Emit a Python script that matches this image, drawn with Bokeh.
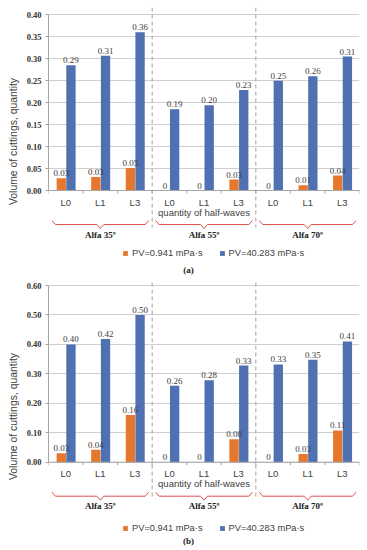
import math
import numpy as np
from bokeh.plotting import figure
from bokeh.layouts import column
from bokeh.models import (ColumnDataSource, FixedTicker, PrintfTickFormatter, Span,
                          Title, Legend, LegendItem, Range1d)
from bokeh.transform import dodge
from bokeh.core.properties import value
from bokeh.embed import file_html
from bokeh.resources import INLINE

# ---------------- data ----------------
cats = ["L0", "L1", "L3", "L0", "L1", "L3", "L0", "L1", "L3"]
groups = ["Alfa 35º", "Alfa 55º", "Alfa 70º"]
series_names = ["PV=0.941 mPa·s", "PV=40.283 mPa·s"]
x_title = "quantity of half-waves"
y_title = "Volume of cuttings, quantity"

# panel (a)
a_orange = [0.028, 0.031, 0.051, 0.0, 0.0, 0.025, 0.0, 0.012, 0.034]
a_blue = [0.285, 0.307, 0.360, 0.185, 0.194, 0.229, 0.250, 0.260, 0.305]
a_orange_lbl = ["0.03", "0.03", "0.05", "0", "0", "0.03", "0", "0.01", "0.04"]
a_blue_lbl = ["0.29", "0.31", "0.36", "0.19", "0.20", "0.23", "0.25", "0.26", "0.31"]
a_ticks = [0.00, 0.05, 0.10, 0.15, 0.20, 0.25, 0.30, 0.35, 0.40]

# panel (b)
b_orange = [0.030, 0.042, 0.160, 0.0, 0.0, 0.078, 0.0, 0.028, 0.108]
b_blue = [0.400, 0.418, 0.500, 0.260, 0.278, 0.328, 0.332, 0.348, 0.410]
b_orange_lbl = ["0.03", "0.04", "0.16", "0", "0", "0.08", "0", "0.03", "0.11"]
b_blue_lbl = ["0.40", "0.42", "0.50", "0.26", "0.28", "0.33", "0.33", "0.35", "0.41"]
b_ticks = [0.00, 0.10, 0.20, 0.30, 0.40, 0.50, 0.60]

ORANGE = "#E8772E"
BLUE = "#4F70B1"
RED = "#D9534F"
GRID = "#CFCFCF"
AXIS = "#A6A6A6"
SANS = "Liberation Sans"
SERIF = "Liberation Serif"

W = 367
H = 275
FRAME_TOP = 7
LEFT = 40
RIGHT = 8


def make_panel(orange, blue, orange_lbl, blue_lbl, ticks, top_px, zero_px, caption):
    y_max = ticks[-1]
    scale = (zero_px - top_px) / y_max
    y_end = y_max + (top_px - FRAME_TOP) / scale
    y_start = -(H - zero_px) / scale

    def below(px):
        return -px / scale

    n = len(cats)
    xs = [i + 0.5 for i in range(n)]
    src = ColumnDataSource(dict(x=xs, cat=cats, o=orange, b=blue,
                                ol=orange_lbl, bl=blue_lbl))

    p = figure(width=W, height=H, output_backend="svg", toolbar_location=None,
               x_range=Range1d(0, n), y_range=Range1d(y_start, y_end),
               x_axis_location=None, min_border_left=LEFT, min_border_right=RIGHT,
               min_border_top=FRAME_TOP, min_border_bottom=0)
    p.outline_line_color = None
    p.background_fill_color = "white"
    p.border_fill_color = "white"
    p.xgrid.visible = False
    p.ygrid.grid_line_color = GRID
    p.ygrid.bounds = (0, y_max)
    p.ygrid.ticker = FixedTicker(ticks=ticks)

    ax = p.yaxis[0]
    ax.ticker = FixedTicker(ticks=ticks)
    ax.bounds = (0, y_max)
    ax.formatter = PrintfTickFormatter(format="%.2f")
    ax.axis_line_color = AXIS
    ax.major_tick_line_color = AXIS
    ax.major_tick_out = 3
    ax.major_tick_in = 0
    ax.minor_tick_line_color = None
    ax.major_label_text_font = SERIF
    ax.major_label_text_font_style = "bold"
    ax.major_label_text_font_size = "8.5px"
    ax.major_label_text_color = "#333333"
    ax.major_label_standoff = 4

    # y title (shifted up so it is centred on the value area)
    frame_h = H - FRAME_TOP
    shift = (FRAME_TOP + frame_h / 2) - (top_px + zero_px) / 2
    p.add_layout(Title(text=y_title, align="center", offset=shift,
                       text_font=SANS, text_font_size="10.4px",
                       text_font_style="normal", text_color="#404040"), "left")

    # bars
    r_o = p.vbar(x=dodge("x", -0.13, range=p.x_range), top="o", width=0.27,
                 source=src, fill_color=ORANGE, line_color=None)
    r_b = p.vbar(x=dodge("x", 0.15, range=p.x_range), top="b", width=0.27,
                 source=src, fill_color=BLUE, line_color=None)

    # x axis line at zero and category boundary ticks
    p.add_layout(Span(location=0, dimension="width", line_color=AXIS, line_width=1))
    bounds_x = list(range(n + 1))
    p.segment(x0=bounds_x, x1=bounds_x, y0=[0] * (n + 1), y1=[below(3)] * (n + 1),
              line_color=AXIS, line_width=1)

    # value labels
    p.text(x=dodge("x", -0.13, range=p.x_range), y="o", text="ol", source=src,
           text_align="center", text_baseline="bottom", y_offset=-2,
           text_font=value(SERIF), text_font_size="9px", text_color="#404040")
    p.text(x=dodge("x", 0.15, range=p.x_range), y="b", text="bl", source=src,
           text_align="center", text_baseline="bottom", y_offset=-2,
           text_font=value(SERIF), text_font_size="9px", text_color="#404040")

    # category labels
    p.text(x="x", y=below(11.5), text="cat", source=src, text_align="center",
           text_baseline="middle", text_font=value(SANS), text_font_size="9.5px",
           text_color="#404040")
    # axis title
    p.text(x=[n / 2], y=[below(21.5)], text=[x_title], text_align="center",
           text_baseline="middle", text_font=value(SANS), text_font_size="9.5px",
           text_color="#404040")

    # separators between groups
    seps = [3, 6]
    p.segment(x0=seps, x1=seps, y0=[y_end] * 2, y1=[below(37)] * 2,
              line_color="#A0A0A0", line_dash="4 3", line_width=1)

    # braces and group labels
    bxs, bys = [], []
    yt, ym, yb = below(30), below(34), below(38)
    for g in range(3):
        x0 = g * 3 + 0.1
        x1 = g * 3 + 3 - 0.1
        xc = g * 3 + 1.5
        bxs.append([x0, x0 + 0.1, xc - 0.1, xc, xc + 0.1, x1 - 0.1, x1])
        bys.append([yt, ym, ym, yb, ym, ym, yt])
    p.multi_line(xs=bxs, ys=bys, line_color=RED, line_width=1)
    p.text(x=[1.5, 4.5, 7.5], y=[below(44)] * 3, text=groups, text_align="center",
           text_baseline="middle", text_font=value(SERIF), text_font_style="bold",
           text_font_size="9px", text_color="#202020")

    # caption
    p.text(x=[(183.5 - LEFT) / ((W - LEFT - RIGHT) / n)], y=[below(79)], text=[caption],
           text_align="center", text_baseline="middle", text_font=value(SERIF),
           text_font_style="bold", text_font_size="9px", text_color="#202020")

    legend = Legend(items=[LegendItem(label=series_names[0], renderers=[r_o]),
                           LegendItem(label=series_names[1], renderers=[r_b])],
                    orientation="horizontal", location=(74, 17),
                    glyph_width=6, glyph_height=6, label_standoff=4, spacing=16,
                    padding=0, margin=0, border_line_color=None,
                    background_fill_alpha=0, label_height=10,
                    label_text_font=SANS, label_text_font_size="9.3px",
                    label_text_color="#404040", label_text_baseline="middle")
    p.add_layout(legend, "center")
    return p


p1 = make_panel(a_orange, a_blue, a_orange_lbl, a_blue_lbl, a_ticks, 14.3, 190.0, "(a)")
p2 = make_panel(b_orange, b_blue, b_orange_lbl, b_blue_lbl, b_ticks, 10.0, 186.7, "(b)")

layout = column(p1, p2, spacing=0,
                styles={"position": "absolute", "left": "0px", "top": "0px"})

open("out.html", "w").write(file_html(layout, INLINE))
